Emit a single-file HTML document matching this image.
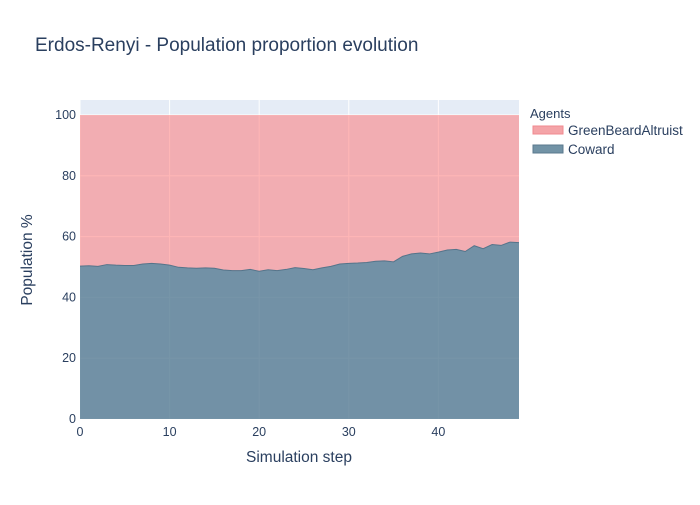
<!DOCTYPE html>
<html><head><meta charset="utf-8"><style>
body{margin:0;background:#fff;font-family:"Liberation Sans",sans-serif;}
text{font-family:"Liberation Sans",sans-serif;}
</style></head><body>
<svg id="chart" width="700" height="500">
<rect x="0" y="0" width="700" height="500" fill="#fff"/>
<text x="35" y="51" font-size="19" fill="#2a3f5f">Erdos-Renyi - Population proportion evolution</text>
<rect x="80" y="100" width="439" height="319" fill="#e5ecf6"/>
<g id="grid"></g>
<g id="areas"></g>
<g id="ticks"></g>
<text x="299" y="462" font-size="15.5" fill="#2a3f5f" text-anchor="middle">Simulation step</text>
<text x="32" y="260" font-size="15.5" fill="#2a3f5f" text-anchor="middle" transform="rotate(-90 32 260)">Population %</text>
<g>
<text x="530" y="118" font-size="13" fill="#2a3f5f">Agents</text>
<g>
<rect x="533" y="126" width="30" height="8" fill="#f4a4a8" stroke="#f08a8f"/>
<text x="568" y="135" font-size="13.5" fill="#2a3f5f">GreenBeardAltruist</text></g>
<g>
<rect x="533" y="145" width="30" height="8" fill="#7293a6" stroke="#5b7a8e"/>
<text x="568" y="154" font-size="13.5" fill="#2a3f5f">Coward</text></g>
</g>
</svg>
<script>
const steps = [0,1,2,3,4,5,6,7,8,9,10,11,12,13,14,15,16,17,18,19,20,21,22,23,24,25,26,27,28,29,30,31,32,33,34,35,36,37,38,39,40,41,42,43,44,45,46,47,48,49];
const coward = [50.3,50.4,50.2,50.8,50.6,50.5,50.5,51,51.2,51,50.6,49.9,49.7,49.6,49.7,49.6,49,48.8,48.8,49.2,48.6,49.1,48.8,49.2,49.8,49.5,49.1,49.7,50.2,51,51.2,51.3,51.5,51.9,52,51.7,53.5,54.3,54.6,54.3,54.9,55.6,55.8,55.1,57,56,57.4,57.1,58.2,58];
const xTicks = [0,10,20,30,40];
const yTicks = [0,20,40,60,80,100];
{
const NS="http://www.w3.org/2000/svg";
const X=v=>80+v*(439/49);
const Y=v=>419-v*3.04;
function mk(tag,attrs,parent){const e=document.createElementNS(NS,tag);for(const k in attrs)e.setAttribute(k,attrs[k]);parent.appendChild(e);return e;}
const gridG=document.getElementById('grid'),tickG=document.getElementById('ticks'),areaG=document.getElementById('areas');
xTicks.forEach(t=>{
 const l=mk('line',{x1:X(t),x2:X(t),y1:100,y2:419,stroke:'#fff','stroke-width':1},gridG);
 
 
 const tx=mk('text',{x:X(t),y:436,'font-size':12.5,fill:'#2a3f5f','text-anchor':'middle'},tickG);tx.textContent=t;
 
 
});
yTicks.forEach(t=>{
 const l=mk('line',{x1:80,x2:519,y1:Y(t),y2:Y(t),stroke:'#fff','stroke-width':1},gridG);
 
 
 const tx=mk('text',{x:76,y:Y(t)+4,'font-size':12.5,fill:'#2a3f5f','text-anchor':'end'},tickG);tx.textContent=t;
 
 
});
const linePts=steps.map((s,i)=>X(s)+','+Y(coward[i])).join(' ');
const upperArea=mk('polygon',{points:linePts+' '+X(steps[steps.length-1])+','+Y(100)+' '+X(steps[0])+','+Y(100),fill:'rgba(255,110,110,0.5)',stroke:'none'},areaG);


const lowerArea=mk('polygon',{points:X(steps[0])+','+Y(0)+' '+linePts+' '+X(steps[steps.length-1])+','+Y(0),fill:'rgba(85,123,146,0.8)',stroke:'none'},areaG);


const cowardLine=mk('polyline',{points:linePts,fill:'none',stroke:'#55748a','stroke-width':1},areaG);


}
</script>
</body></html>
